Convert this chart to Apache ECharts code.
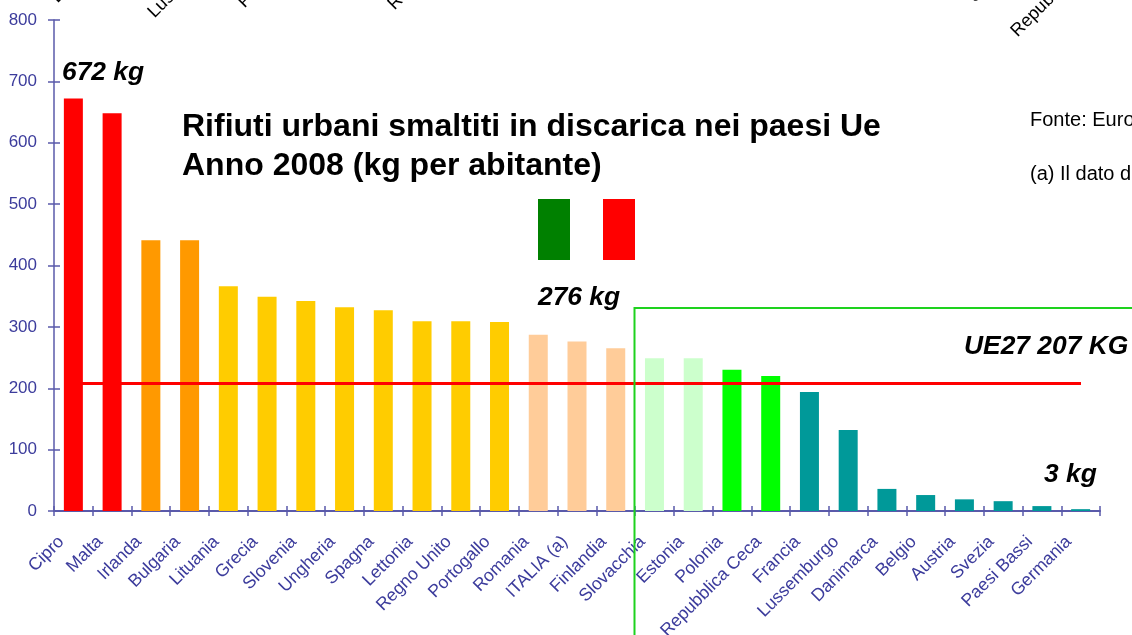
<!DOCTYPE html>
<html><head><meta charset="utf-8">
<style>html,body{margin:0;padding:0;background:#fff;overflow:hidden}#c{width:1132px;height:635px}</style>
<script src="https://cdn.jsdelivr.net/npm/echarts@6/dist/echarts.min.js"></script>
</head><body><div id="c"></div>
<script>
const categories = ['Cipro','Malta','Irlanda','Bulgaria','Lituania','Grecia','Slovenia','Ungheria','Spagna','Lettonia','Regno Unito','Portogallo','Romania','ITALIA (a)','Finlandia','Slovacchia','Estonia','Polonia','Repubblica Ceca','Francia','Lussemburgo','Danimarca','Belgio','Austria','Svezia','Paesi Bassi','Germania'];
const values = [672,648,441,441,366,349,342,332,327,309,309,308,287,276,265,249,249,230,220,194,132,36,26,19,16,8,3];
const barColors = ['#ff0000','#ff0000','#ff9900','#ff9900','#ffcc00','#ffcc00','#ffcc00','#ffcc00','#ffcc00','#ffcc00','#ffcc00','#ffcc00','#ffcc99','#ffcc99','#ffcc99','#ccffcc','#ccffcc','#00ff00','#00ff00','#009999','#009999','#009999','#009999','#009999','#009999','#009999','#009999'];
const ue27Line = 208;
const AXIS = '#5a5aaa', LABEL = '#3c3c9c', FONT = '"Liberation Sans", Arial, sans-serif';

function txt(x, y, text, size, weight, style, rotation, align) {
  return {type:'text', x, y, rotation: rotation || 0, z: 20,
    style:{text, font:`${style||'normal'} ${weight||'normal'} ${size}px ${FONT}`, fill:'#000', align: align||'left', verticalAlign:'middle'}};
}
const R45 = Math.PI/4;
const chart = echarts.init(document.getElementById('c'), null, {renderer:'canvas'});
chart.setOption({
  animation:false,
  backgroundColor:'#fff',
  grid:{left:54, right:32, top:20, height:491, containLabel:false, outerBoundsMode:'none'},
  xAxis:[
    {type:'category', data:categories, position:'bottom',
     axisLine:{lineStyle:{color:AXIS,width:2}},
     axisTick:{show:true,interval:0,alignWithLabel:false,length:5,lineStyle:{color:AXIS,width:1.5}},
     axisLabel:{interval:0,rotate:45,color:LABEL,fontFamily:FONT,fontSize:17.6,margin:16,padding:[0,17,0,0]}},
    {type:'category', data:categories, position:'bottom', offset:0,
     axisLine:{show:false},
     axisTick:{show:true,interval:0,inside:true,length:5,lineStyle:{color:AXIS,width:1.5}},
     axisLabel:{show:false}}
  ],
  yAxis:[
    {type:'value', min:0, max:800, interval:100,
     splitLine:{show:false},
     axisLine:{show:true,lineStyle:{color:AXIS,width:1.5}},
     axisTick:{show:true,length:6,lineStyle:{color:AXIS,width:1.5}},
     axisLabel:{color:LABEL,fontFamily:FONT,fontSize:17,margin:17,padding:[2,0,0,0]}},
    {type:'value', min:0, max:800, interval:100, position:'left',
     splitLine:{show:false},
     axisLine:{show:false},
     axisTick:{show:true,inside:true,length:6,lineStyle:{color:AXIS,width:1.5}},
     axisLabel:{show:false}}
  ],
  series:[{
    type:'bar', barWidth:19,
    data:values.map((v,i)=>({value:v,itemStyle:{color:barColors[i]}})),
    markLine:{silent:true,symbol:'none',label:{show:false},
      lineStyle:{color:'#ff0000',width:3,type:'solid'},
      data:[[{x:82,yAxis:ue27Line},{x:1081,yAxis:ue27Line}]]}
  }],
  graphic:[
    {type:'rect',shape:{x:538,y:199,width:32,height:61},style:{fill:'#008000'},z:10},
    {type:'rect',shape:{x:603,y:199,width:32,height:61},style:{fill:'#ff0000'},z:10},
    {type:'polyline',shape:{points:[[634.5,635],[634.5,308],[1132,308]]},style:{stroke:'#1ed21e',lineWidth:2,fill:null},z:12},
    txt(182,127,'Rifiuti urbani smaltiti in discarica nei paesi Ue',32,'bold'),
    txt(182,166,'Anno 2008 (kg per abitante)',32,'bold'),
    txt(62,73,'672 kg',26.4,'bold','italic'),
    txt(538,298,'276 kg',26.4,'bold','italic'),
    txt(964,347,'UE27 207 KG',26.4,'bold','italic'),
    txt(1044,475,'3 kg',26.4,'bold','italic'),
    txt(1030,120,'Fonte: Eurostat',20),
    txt(1030,174,'(a) Il dato del',20),
    txt(54,0,'Lettonia',18,'normal','normal',R45),
    txt(151,15,'Lussemburgo',18,'normal','normal',R45),
    txt(241,5,'Portogallo',18,'normal','normal',R45),
    txt(391,7,'Romania',18,'normal','normal',R45),
    txt(971,0,'Ungheria',18,'normal','normal',R45),
    txt(1014,34,'Repubblica Ceca',18,'normal','normal',R45)
  ]
});
</script></body></html>
